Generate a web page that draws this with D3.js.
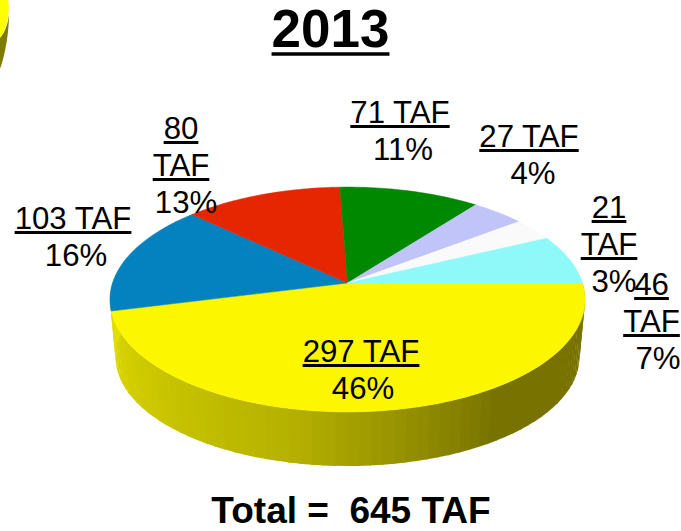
<!DOCTYPE html>
<html>
<head>
<meta charset="utf-8">
<script src="https://cdn.jsdelivr.net/npm/d3@7"></script>
<style>
  html, body { margin: 0; padding: 0; background: #fff; }
  text { font-family: "Liberation Sans", Arial, sans-serif; fill: #000; white-space: pre; }
</style>
</head>
<body>
<div id="chart"></div>
<script>
// chart values
var titleText = "2013";
var totalText = "Total =  645 TAF";
var taf = [297, 103, 80, 71, 27, 21, 46];
var percent = [46, 16, 13, 11, 4, 3, 7];
var sliceColors = ["#fcf600", "#0482bf", "#e62600", "#008800", "#c0c4f8", "#fafafa", "#8ff9fa"];

// where each label sits: x, baseline y, and whether the value wraps onto two lines
var labelLayout = [
  {x: 361, y: 362, wrap: false, dx: 2},
  {x: 73, y: 229, wrap: false, dx: 3},
  {x: 181, y: 139, wrap: true, dx: 5},
  {x: 400, y: 123, wrap: false, dx: 3},
  {x: 529, y: 147, wrap: false, dx: 4},
  {x: 609, y: 218, wrap: true, dx: 5},
  {x: 651.5, y: 295, wrap: true, dx: 6.5}
];

var width = 681, height = 531;
var svg = d3.select("#chart").append("svg")
  .attr("width", width)
  .attr("height", height)
  .style("display", "block");

var slices = d3.pie().sort(null).startAngle(0).endAngle(2 * Math.PI)(taf);

// pie is a flat disc seen in perspective, so the centre sits above the ellipse centre
var cx = 347.5, cy = 283, k = 0.1467;
var topDisc = {a: 235, b: 110, y0: cy};
var baseDisc = {a: 229.5, b: 106.7, y0: 341};

function project(disc, angle, r) {
  var x = r * Math.cos(angle), y = r * Math.sin(angle);
  var w = 1 - k * y;
  return [cx + disc.a * x / w, disc.y0 + disc.b * y / w];
}

var line = d3.line();

// side wall, only the front of the yellow slice shows
var shade = d3.scaleLinear()
  .domain([0, 55, 100, 180])
  .range(["#787300", "#787300", "#b5b000", "#e4e000"]);

var wallStep = Math.PI / 72;
var wallEnd = slices[0].endAngle + 0.25;
var wall = d3.range(0, wallEnd, wallStep);

svg.selectAll("path.wall").data(wall).enter().append("path")
  .attr("class", "wall")
  .attr("d", function(a) {
    var b = a + wallStep * 1.15;
    return line([project(topDisc, a, 1), project(topDisc, b, 1), project(baseDisc, b, 1), project(baseDisc, a, 1)]) + "Z";
  })
  .attr("fill", function(a) { return shade(a * 180 / Math.PI); });

// top face
function slicePath(d) {
  var n = Math.max(2, Math.ceil((d.endAngle - d.startAngle) / 0.02));
  var pts = [[cx, cy]];
  d3.range(n + 1).forEach(function(i) {
    pts.push(project(topDisc, d.startAngle + (d.endAngle - d.startAngle) * i / n, 1));
  });
  return line(pts) + "Z";
}

svg.selectAll("path.slice").data(slices).enter().append("path")
  .attr("class", "slice")
  .attr("d", slicePath)
  .attr("fill", function(d, i) { return sliceColors[i]; })
  .attr("stroke", function(d, i) { return sliceColors[i]; })
  .attr("stroke-width", 0.5);

// leftover piece of the neighbouring pie in the corner
var corner = svg.append("g");
corner.append("path")
  .attr("d", "M0,0H8C10,12 8,25 0,38Z")
  .attr("fill", "#ffff00");
corner.append("path")
  .attr("d", "M0,38C5,32 8,24 9,14C9,30 6,52 0,69Z")
  .attr("fill", "#7f7a00");

// labels, the underline is drawn by hand since the default one is too thin
function addText(str, x, y, size, weight, rule) {
  var t = svg.append("text")
    .attr("x", x)
    .attr("y", y)
    .attr("text-anchor", "middle")
    .attr("font-size", size)
    .attr("font-weight", weight)
    .text(str);
  if (rule) {
    var w = t.node().getComputedTextLength();
    svg.append("line")
      .attr("x1", x - w / 2)
      .attr("x2", x + w / 2)
      .attr("y1", y + rule.gap)
      .attr("y2", y + rule.gap)
      .attr("stroke", "#000")
      .attr("stroke-width", rule.thick);
  }
}

var labelSize = 31.2, lineGap = 37;
var labelRule = {gap: 3.5, thick: 3};
taf.forEach(function(v, i) {
  var l = labelLayout[i], y = l.y;
  if (l.wrap) {
    addText(String(v), l.x, y, labelSize, "normal", labelRule);
    y += lineGap;
    addText("TAF", l.x, y, labelSize, "normal", labelRule);
  } else {
    addText(v + " TAF", l.x, y, labelSize, "normal", labelRule);
  }
  addText(percent[i] + "%", l.x + l.dx, y + lineGap, labelSize, "normal", null);
});

addText(titleText, 330.5, 47, 53, "bold", {gap: 7, thick: 3.5});
addText(totalText, 351, 523, 37, "bold", null);
</script>
</body>
</html>
